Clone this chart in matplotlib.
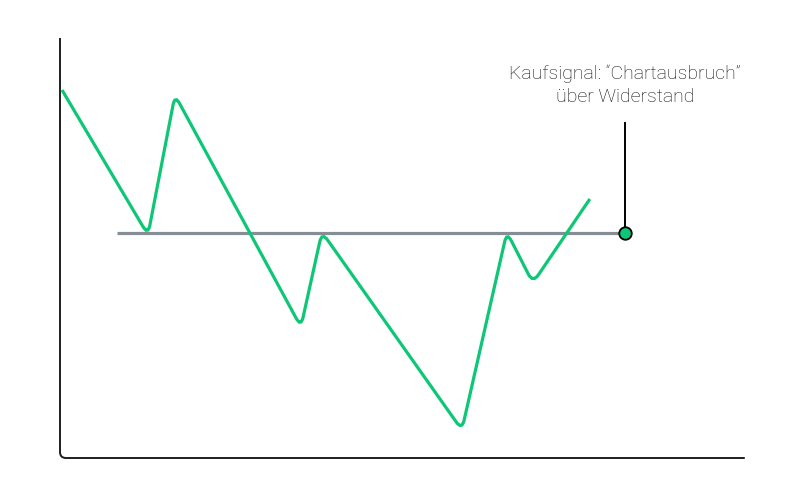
import numpy as np
import matplotlib.pyplot as plt
from matplotlib.path import Path
from matplotlib.patches import PathPatch

# Kursverlauf (Zeit / Kurs, frei skaliert)
zeit = [2, 88, 115, 241, 262, 402, 447, 473, 530]
kurs = [368, 223, 363, 131, 226, 28, 226, 175, 259]

# Widerstandslinie
widerstand = 225
widerstand_von = 57
widerstand_bis = 565

# Kaufsignal
signal_x = 565
signal_y = 225
signal_oben = 335
signal_text = "Kaufsignal: \u201cChartausbruch\u201d\n\u00fcber Widerstand"

gruen = '#0dc776'
grau = '#878d94'


def runder_pfad(xs, ys, r=10):
    # Linienzug mit abgerundeten Ecken (quadratische Bezier an jedem Knick)
    pts = np.column_stack([xs, ys]).astype(float)
    verts = [pts[0]]
    codes = [Path.MOVETO]
    for i in range(1, len(pts) - 1):
        a, b, c = pts[i - 1], pts[i], pts[i + 1]
        d1 = (a - b) / np.linalg.norm(a - b)
        d2 = (c - b) / np.linalg.norm(c - b)
        verts += [b + d1 * r, b, b + d2 * r]
        codes += [Path.LINETO, Path.CURVE3, Path.CURVE3]
    verts.append(pts[-1])
    codes.append(Path.LINETO)
    return Path(verts, codes)


fig = plt.figure(figsize=(8, 5), dpi=100, facecolor='white')
ax = fig.add_axes([0.075, 0.084, 0.856, 0.84])
ax.set_xlim(0, 685)
ax.set_ylim(0, 420)
for s in ax.spines.values():
    s.set_visible(False)
ax.set_xticks([])
ax.set_yticks([])

# Achsen mit runder Ecke unten links
ecke = 6
achse = Path([(0, 420), (0, ecke), (0, 0), (ecke, 0), (685, 0)],
             [Path.MOVETO, Path.LINETO, Path.CURVE3, Path.CURVE3, Path.LINETO])
ax.add_patch(PathPatch(achse, facecolor='none', edgecolor='#1e1e1e', lw=1.4,
                       clip_on=False))

ax.plot([widerstand_von, widerstand_bis], [widerstand, widerstand], color=grau,
        lw=2.3, solid_capstyle='butt', zorder=2)

ax.add_patch(PathPatch(runder_pfad(zeit, kurs), facecolor='none', edgecolor=gruen,
                       lw=2.3, capstyle='butt', zorder=3))

ax.plot([signal_x, signal_x], [signal_y, signal_oben], color='black', lw=1.4, zorder=4)
ax.plot(signal_x, signal_y, 'o', ms=9, mfc=gruen, mec='black', mew=1.3, zorder=5)

ax.text(signal_x, 373, signal_text, ha='center', va='center', fontsize=14,
        family=['Roboto', 'DejaVu Sans'], fontweight='light', color='#111111',
        linespacing=1.35)

plt.savefig('out.png', dpi=100)
